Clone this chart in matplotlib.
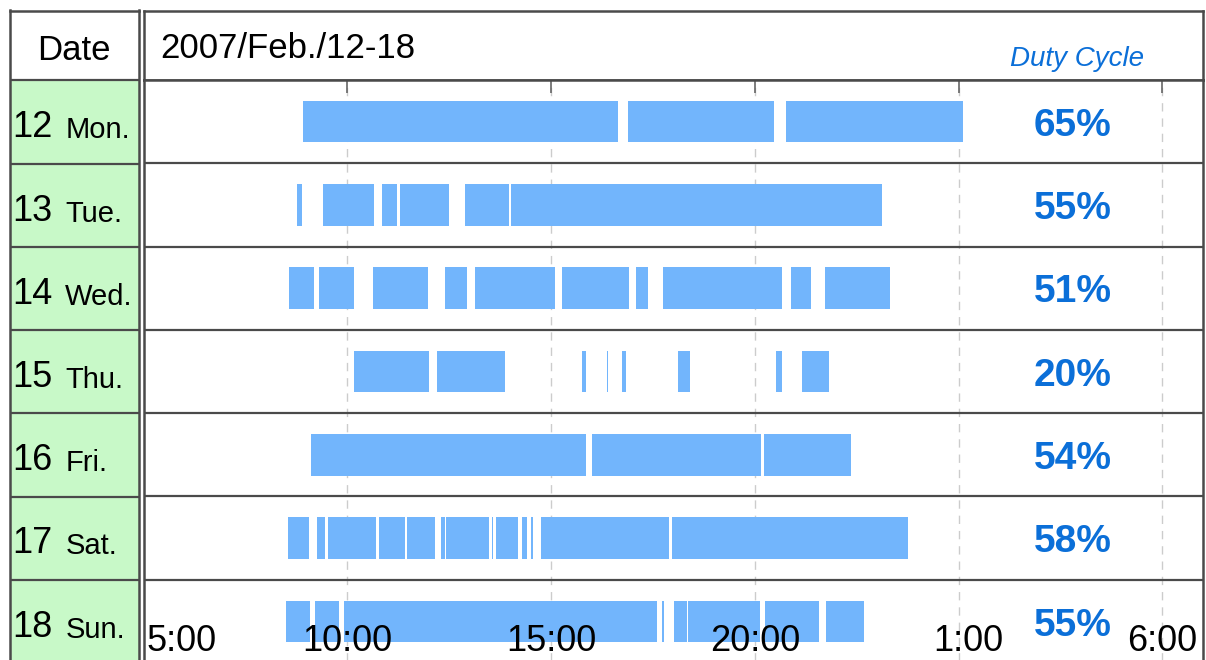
import matplotlib.pyplot as plt
import numpy as np

plt.rcParams['font.family'] = ['Liberation Sans', 'DejaVu Sans']

# day labels and duty cycles
day_nums = ["12", "13", "14", "15", "16", "17", "18"]
day_names = ["Mon.", "Tue.", "Wed.", "Thu.", "Fri.", "Sat.", "Sun."]
duty = ["65%", "55%", "51%", "20%", "54%", "58%", "55%"]

# on-intervals per day, hours from 5:00 (25 = 1:00 next day)
mon = [(8.92, 16.65), (16.88, 20.48), (20.76, 25.10)]
tue = [(8.76, 8.90), (9.40, 10.65), (10.85, 11.23), (11.29, 12.50),
       (12.88, 13.96), (14.01, 23.13)]
wed = [(8.57, 9.19), (9.31, 10.16), (10.62, 11.98), (12.39, 12.94),
       (13.14, 15.11), (15.27, 16.92), (17.09, 17.37), (17.74, 20.68),
       (20.89, 21.37), (21.73, 23.33)]
thu = [(10.16, 12.00), (12.21, 13.88), (15.77, 15.85), (16.37, 16.40),
       (16.74, 16.84), (18.12, 18.42), (20.51, 20.67), (21.15, 21.83)]
fri = [(9.11, 15.87), (16.01, 20.16), (20.22, 22.37)]
sat = [(8.55, 9.06), (9.25, 9.46), (9.53, 10.71), (10.78, 11.41),
       (11.47, 12.16), (12.31, 12.39), (12.43, 13.48), (13.54, 13.58),
       (13.65, 14.20), (14.29, 14.42), (14.50, 14.56), (14.76, 17.90),
       (17.98, 23.75)]
sun = [(8.50, 9.08), (9.21, 9.80), (9.93, 17.61), (17.72, 17.78),
       (18.02, 18.34), (18.37, 20.14), (20.25, 21.58), (21.75, 22.67)]
days = [mon, tue, wed, thu, fri, sat, sun]

grid_hours = [10, 15, 20, 25, 30]
tick_hours = [5, 10, 15, 20, 25, 30]
tick_labels = ["5:00", "10:00", "15:00", "20:00", "1:00", "6:00"]

BAR = "#72b5fc"
GREEN = "#c8f9c8"
EDGE = "#4a4a4a"
PCT = "#0b6fd8"

W, H = 1206, 660
fig = plt.figure(figsize=(W / 100, H / 100), dpi=100)


def box(x0, y0, x1, y1):
    # pixel box (top-left origin) -> figure axes
    return fig.add_axes([x0 / W, (H - y1) / H, (x1 - x0) / W, (y1 - y0) / H])


# left date column
axl = box(10, 10.5, 138.5, 663)
axl.set_xlim(0, 1)
axl.set_ylim(7, -0.84)
axl.axhspan(0, 7, color=GREEN, zorder=0)
for y in range(0, 7):
    axl.axhline(y, color=EDGE, lw=1.6)
axl.text(0.5, -0.36, "Date", fontsize=25, ha="center", va="center")
for i in range(7):
    axl.text(0.02, i + 0.57, day_nums[i], fontsize=26, ha="left", va="center")
    axl.text(0.43, i + 0.6, day_names[i], fontsize=21, ha="left", va="center")
axl.set_xticks([])
axl.set_yticks([])
for s in axl.spines.values():
    s.set_color(EDGE)
    s.set_linewidth(1.8)

# header of main panel
axh = box(143.5, 10.5, 1203, 80)
axh.set_xlim(5, 31)
axh.set_ylim(0, 1)
axh.text(5.4, 0.45, "2007/Feb./12-18", fontsize=25, ha="left", va="center")
axh.text(27.9, 0.3, "Duty Cycle", fontsize=20, style="italic", color=PCT,
         ha="center", va="center")
axh.set_xticks([])
axh.set_yticks([])
for s in axh.spines.values():
    s.set_color(EDGE)
    s.set_linewidth(1.8)

# main time axis
ax = box(143.5, 80, 1203, 663)
ax.set_xlim(5, 31)
ax.set_ylim(7, 0)

for i, segs in enumerate(days):
    starts = [a for a, b in segs]
    widths = [b - a for a, b in segs]
    ax.barh(np.full(len(segs), i + 0.5), widths, left=starts, height=0.5,
            color=BAR, edgecolor="none", zorder=2)
    ax.text(27.8, i + 0.55, duty[i], fontsize=28, fontweight="bold",
            color=PCT, ha="center", va="center", zorder=3)

for g in grid_hours:
    ax.axvline(g, color="#cccccc", lw=1, ls=(0, (6, 5)), zorder=1)
for y in range(1, 7):
    ax.axhline(y, color=EDGE, lw=1.6, zorder=4)

ax.set_xticks(grid_hours)
ax.set_xticklabels([])
ax.set_yticks([])
ax.tick_params(axis="x", top=True, bottom=False, direction="in",
               length=9, width=1.2, color="#666666")

# time labels sit at the bottom edge, over the last row
for h, lab in zip(tick_hours, tick_labels):
    if h == 5:
        x, ha = h + 0.08, "left"
    elif h == 25:
        x, ha = h + 0.25, "center"
    else:
        x, ha = h, "center"
    ax.text(x, 6.955, lab, fontsize=26, ha=ha, va="bottom", zorder=5)

for s in ax.spines.values():
    s.set_color(EDGE)
    s.set_linewidth(1.8)

fig.savefig("out.png", dpi=100)
